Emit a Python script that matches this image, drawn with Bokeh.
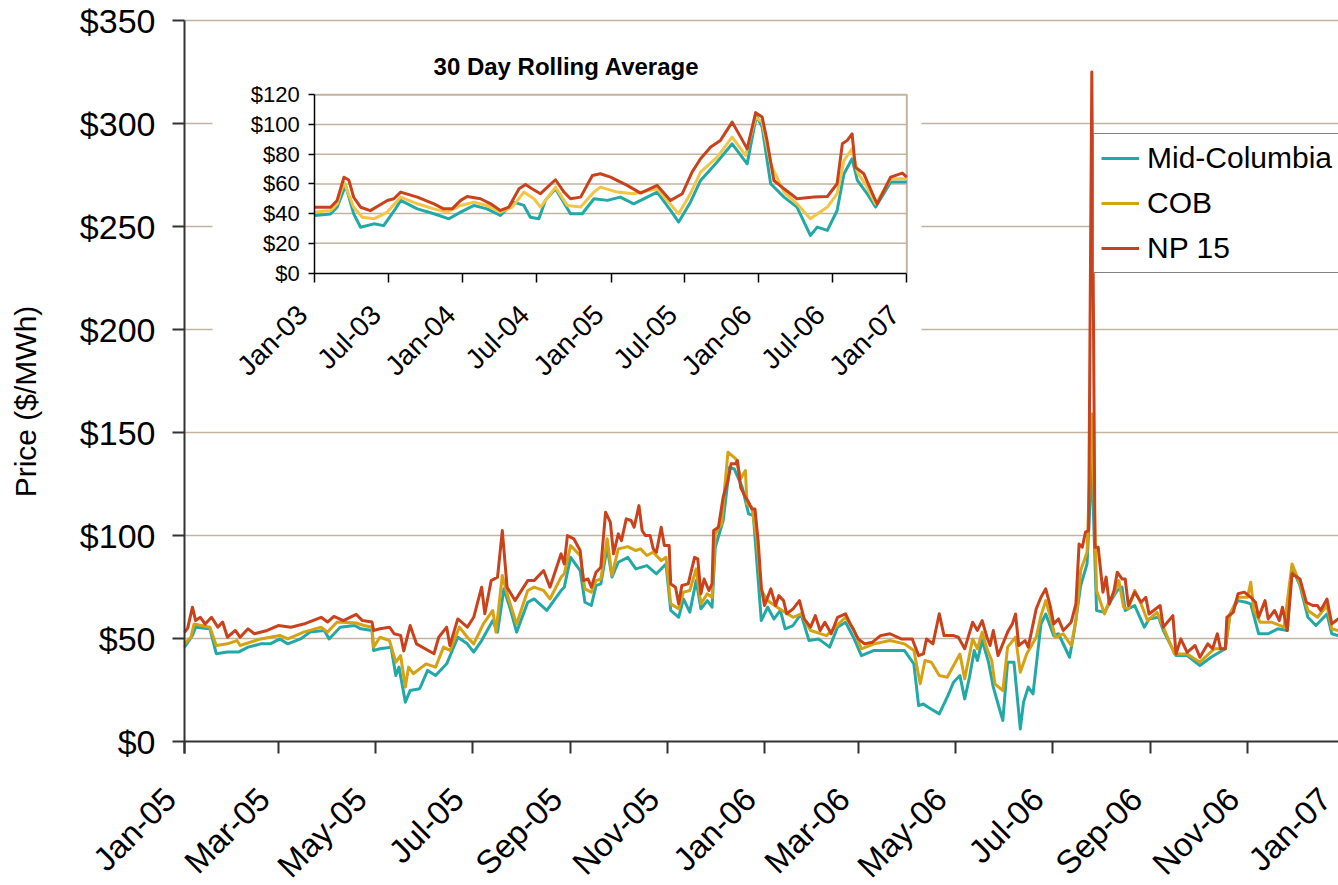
import numpy as np
from math import pi
from bokeh.plotting import figure
from bokeh.models import (Range1d, LinearAxis, FixedTicker, NumeralTickFormatter,
                          Legend, LegendItem, Label)
from bokeh.embed import file_html
from bokeh.resources import INLINE

# ---------------- data ----------------
MAIN_START = "2005-01-01"
INSET_START = "2003-01-01"
INSET_END = "2007-01-01"

SERIES = ["Mid-Columbia", "COB", "NP 15"]

X_TICK_DATES = ["2005-01-01", "2005-03-01", "2005-05-01", "2005-07-01", "2005-09-01", "2005-11-01",
                "2006-01-01", "2006-03-01", "2006-05-01", "2006-07-01", "2006-09-01", "2006-11-01",
                "2007-01-01"]
X_TICK_LABELS = ["Jan-05", "Mar-05", "May-05", "Jul-05", "Sep-05", "Nov-05",
                 "Jan-06", "Mar-06", "May-06", "Jul-06", "Sep-06", "Nov-06", "Jan-07"]
MAIN_Y_TICKS = [0, 50, 100, 150, 200, 250, 300, 350]
INSET_TICK_DATES = ["2003-01-01", "2003-07-01", "2004-01-01", "2004-07-01", "2005-01-01",
                    "2005-07-01", "2006-01-01", "2006-07-01", "2007-01-01"]
INSET_TICK_LABELS = ["Jan-03", "Jul-03", "Jan-04", "Jul-04", "Jan-05", "Jul-05", "Jan-06", "Jul-06", "Jan-07"]
INSET_Y_TICKS = [0, 20, 40, 60, 80, 100, 120]
INSET_TITLE = "30 Day Rolling Average"
Y_LABEL = "Price ($/MWh)"

# daily prices, main chart (day offset from MAIN_START, $/MWh)
midc_day = [0, 5, 7, 16, 20, 27, 34, 40, 48, 54,
            60, 65, 73, 79, 88, 91, 98, 107, 111, 118,
            119, 123, 130, 133, 135, 139, 142, 148, 153, 158,
            165, 172, 178, 182, 187, 194, 197, 201, 205, 209,
            216, 220, 228, 237, 239, 243, 249, 252, 256, 259,
            262, 266, 269, 273, 279, 284, 291, 297, 303, 306,
            311, 314, 318, 322, 325, 329, 332, 334, 339, 343,
            346, 351, 355, 358, 363, 367, 371, 375, 378, 383,
            388, 393, 399, 406, 411, 416, 421, 426, 434, 444,
            453, 459, 462, 465, 468, 475, 480, 484, 488, 491,
            494, 497, 499, 502, 506, 509, 512, 515, 518, 522,
            526, 528, 531, 534, 539, 542, 547, 550, 557, 560,
            564, 568, 571, 574, 579, 583, 587, 590, 592, 598,
            604, 607, 613, 616, 624, 631, 639, 646, 655, 658,
            663, 668, 671, 676, 682, 688, 694, 697, 702, 707,
            712, 719, 722, 726, 729]
midc_price = [45.8, 51.5, 55.5, 54.7, 42.6, 43.4, 43.4, 45.8, 47.4, 47.4,
              49.8, 47.4, 49.8, 53.1, 53.9, 49.8, 55.5, 56.3, 54.7, 53.9,
              44.2, 45, 45.8, 32, 36.1, 19.1, 24.8, 25.6, 34.5, 32,
              37.7, 50.6, 47.4, 43.4, 49, 58.7, 53.1, 74.1, 64.4, 53.1,
              67.6, 69.2, 63.6, 73.3, 74.9, 89.4, 83, 67.6, 66, 75.7,
              76.5, 94.3, 79.8, 87, 89.4, 83.8, 85.4, 81.4, 86.2, 63.6,
              60.3, 69.2, 62.8, 78.1, 64.4, 68.4, 65.2, 94.3, 107.3, 133.1,
              132.3, 123.4, 110.5, 109.7, 58.7, 65.2, 59.5, 63.6, 54.7, 56.3,
              62, 49, 49.8, 45.8, 55.5, 57.9, 50.6, 41.7, 44.2, 44.2,
              44.2, 37.7, 17.4, 18.2, 16.6, 13.4, 21.5, 28.8, 32, 20.7,
              31.2, 44.2, 39.3, 49, 38.5, 26.4, 18.2, 10.2, 38.5, 38.5,
              6.1, 19, 26.4, 23.1, 57.1, 61.9, 51.4, 52.3, 40.9, 53.9,
              75.7, 86.2, 135, 63.6, 62.7, 68.4, 73.3, 74.9, 63.6, 66,
              55.5, 59.5, 60.3, 53.9, 41.7, 41.7, 36.9, 40.9, 45, 61.9,
              68.4, 67.6, 66.8, 52.3, 52.3, 54.7, 53.9, 84.6, 75.7, 60.3,
              56.3, 61.9, 52.3, 51.4, 51]

cob_day = [0, 4, 6, 16, 20, 27, 33, 35, 48, 60,
           65, 75, 86, 90, 96, 108, 113, 118, 119, 123,
           129, 133, 136, 139, 141, 144, 152, 158, 163, 167,
           173, 178, 182, 188, 194, 196, 200, 203, 209, 216,
           220, 226, 230, 237, 239, 243, 249, 252, 256, 259,
           262, 266, 269, 273, 279, 284, 287, 291, 295, 300,
           303, 306, 311, 314, 318, 322, 325, 329, 332, 334,
           338, 340, 342, 347, 350, 353, 354, 357, 360, 363,
           367, 373, 383, 388, 394, 404, 416, 421, 426, 434,
           444, 453, 459, 463, 466, 470, 475, 480, 484, 488,
           491, 496, 499, 502, 505, 508, 510, 515, 518, 523,
           526, 530, 536, 539, 542, 545, 548, 553, 558, 561,
           564, 568, 571, 574, 579, 582, 585, 588, 591, 594,
           598, 602, 606, 612, 616, 623, 631, 639, 648, 655,
           658, 663, 669, 671, 673, 677, 684, 692, 697, 702,
           707, 713, 719, 722, 726, 729]
cob_price = [47.4, 50.6, 57, 55.5, 46.6, 47.4, 49, 46.6, 49.8, 51.5,
             49.8, 53.1, 55.5, 53.1, 58, 57.5, 56.3, 55.5, 45.8, 50.6,
             49, 38.5, 41.7, 26.4, 36.1, 32.9, 37.7, 36.1, 45.8, 44.2,
             55.5, 50.6, 47.4, 57, 63.6, 53.1, 80.6, 71.7, 57, 73.3,
             74.9, 73.3, 69.2, 79.8, 81.4, 95.1, 90.3, 74.1, 72.5, 78.1,
             78.9, 98.4, 80.6, 93.5, 94.6, 92.7, 93.5, 90.3, 91.9, 87.8,
             89.4, 66.8, 64.4, 72.5, 73.3, 83.8, 66.8, 71.7, 70, 100.8,
             105.6, 123.4, 140.4, 137.2, 127.5, 131.5, 115.3, 113.7, 99.2, 73.3,
             68.4, 65.2, 60.3, 62, 53.9, 51.4, 60.3, 54.7, 45, 47.4,
             49, 47.4, 44.2, 28, 39.3, 38.5, 32, 31.2, 36.9, 42.5,
             30.4, 49.8, 45, 53.1, 45, 39.3, 28, 24.7, 45.8, 50.6,
             33.6, 42.5, 50.6, 61.1, 68.4, 60.3, 50.6, 52.3, 46.6, 58.7,
             83, 91.9, 159, 73.3, 61.9, 68.4, 71.7, 78.1, 65.2, 64.4,
             73.3, 66.8, 58.7, 62.7, 55.5, 42.5, 42.5, 38.5, 45, 45,
             61.9, 70, 70, 77.3, 63.6, 57.9, 57.9, 55.5, 86.2, 76.5,
             63.6, 60.3, 66, 54.7, 53.9, 53]

np15_day = [0, 2, 5, 7, 10, 13, 17, 21, 24, 27,
            32, 35, 40, 44, 52, 59, 67, 75, 86, 90,
            94, 100, 108, 112, 118, 119, 123, 129, 132, 136,
            138, 142, 146, 157, 160, 165, 167, 172, 178, 182,
            187, 189, 193, 197, 200, 203, 208, 216, 220, 226,
            230, 237, 239, 241, 245, 249, 251, 254, 256, 259,
            262, 265, 268, 270, 273, 275, 278, 281, 283, 286,
            288, 290, 293, 295, 297, 300, 302, 305, 306, 309,
            311, 313, 317, 321, 323, 325, 327, 330, 332, 333,
            336, 339, 342, 344, 347, 348, 350, 353, 355, 357,
            359, 361, 363, 365, 369, 372, 374, 377, 379, 383,
            387, 390, 394, 397, 400, 403, 407, 411, 416, 419,
            424, 428, 433, 438, 444, 451, 458, 462, 465, 467,
            471, 475, 478, 484, 487, 491, 496, 499, 502, 505,
            507, 509, 512, 518, 521, 523, 525, 529, 531, 536,
            539, 542, 545, 547, 550, 553, 558, 561, 563, 565,
            567, 569, 571, 573, 575, 578, 580, 582, 585, 587,
            590, 592, 594, 598, 602, 605, 607, 614, 616, 622,
            624, 627, 631, 636, 639, 644, 647, 650, 652, 655,
            656, 660, 663, 667, 671, 674, 676, 680, 682, 686,
            689, 691, 694, 697, 702, 706, 710, 713, 715, 719,
            722, 726, 729]
np15_price = [53, 55, 65.2, 58.7, 60.3, 57, 60.3, 55.5, 58, 50.6,
              53.9, 50.6, 54.7, 52.3, 53.9, 56.3, 55.5, 57, 60.3, 58,
              60.7, 58.7, 61.7, 58.7, 58, 53.9, 54.7, 55.5, 52.3, 51.5,
              44, 56.3, 47.4, 42.6, 50.6, 55.5, 46.6, 59.5, 55.5, 60.3,
              74.9, 62, 78.1, 79.8, 102.4, 74.9, 68.4, 78.1, 78.1, 83,
              74.9, 91.1, 86.2, 100, 98.4, 92.7, 78.1, 78.9, 74.9, 82.2,
              84.6, 111.3, 106.4, 91.1, 100.8, 97.5, 108.1, 107.3, 104, 114.5,
              102.4, 100, 100, 93.5, 91.9, 104, 95.1, 95.1, 76.5, 74.9,
              66.8, 75.7, 76.5, 89.4, 88.7, 71.7, 78.9, 73.3, 76.5, 102.4,
              104, 118.6, 126.7, 134.8, 134.8, 136.4, 123.4, 118.6, 116.2, 112.9,
              112.9, 97.5, 74.9, 66, 74.1, 66, 70.8, 68.4, 62, 64.4,
              68.4, 59.5, 55.5, 61.1, 53.9, 57.9, 52.3, 60.3, 62, 57.1,
              49.8, 47.4, 48.2, 51.4, 52.3, 49.8, 49.8, 41.7, 42.5, 49.8,
              47.4, 62, 51.4, 51.4, 50.6, 45, 57.9, 53.9, 58.7, 50.6,
              46.6, 53.9, 41.7, 53.1, 57.1, 61.9, 46.6, 49, 45.8, 64.4,
              70, 74.1, 65.2, 57.1, 59.5, 53.9, 57.9, 66.8, 95.9, 94.3,
              101.6, 102.4, 325, 94.3, 94.3, 72.5, 79.8, 66.8, 73.3, 82.2,
              78.9, 78.9, 66, 72.5, 67.6, 70, 61.9, 66, 55.5, 61.1,
              42.5, 49.8, 43.3, 46.6, 40.9, 47.4, 45, 52.3, 45, 45,
              60.3, 62.7, 71.7, 72.5, 70, 67.6, 60.3, 68.4, 59.5, 63.6,
              58.7, 65.2, 53.9, 81.4, 78.9, 67.6, 66, 66, 63.6, 69.2,
              57.1, 59.5, 58]

# 30 day rolling average, inset (day offset from INSET_START, $/MWh)
midc_avg_day = [0, 39, 55, 76, 96, 113, 146, 170, 199, 212,
                253, 294, 331, 360, 393, 425, 458, 491, 516, 532,
                553, 569, 594, 631, 660, 689, 722, 754, 787, 845,
                878, 898, 927, 952, 993, 1030, 1067, 1090, 1104, 1125,
                1158, 1190, 1223, 1240, 1265, 1289, 1306, 1326, 1339, 1363,
                1384, 1421, 1461]
midc_avg = [38.7, 39.8, 44.3, 58.9, 39.8, 30.8, 33.1, 31.9, 43.2, 48.9,
            43.2, 39.9, 36.5, 41, 45.5, 43.2, 38.7, 47.7, 45.5, 37.6,
            36.5, 48.9, 56.7, 39.9, 39.9, 50, 48.9, 51.1, 46.6, 54.5,
            42.1, 34.3, 47.7, 62.3, 74.7, 87, 73.5, 106.1, 98.2, 60.1,
            51.1, 44.4, 25.3, 30.9, 28.7, 42.1, 66.8, 76.9, 62.3, 53.4,
            44.4, 61.2, 61.2]

cob_avg_day = [0, 39, 55, 72, 96, 117, 146, 179, 212, 253,
               294, 327, 360, 393, 425, 458, 487, 516, 541, 557,
               594, 623, 656, 689, 705, 746, 787, 845, 898, 927,
               952, 993, 1030, 1063, 1088, 1104, 1125, 1158, 1190, 1223,
               1265, 1289, 1306, 1326, 1339, 1363, 1384, 1421, 1461]
cob_avg = [41, 42, 46.5, 61.1, 44.3, 37.6, 36.5, 41, 51.1, 46.6,
           43.2, 41, 45.5, 47.7, 45.5, 41, 44.4, 54.5, 50, 44.4,
           57.8, 45.5, 44.4, 54.5, 57.8, 54.5, 53.4, 56.7, 39.9, 53.4,
           67.9, 78, 91.5, 79.2, 105, 101.6, 73.5, 54.5, 46.6, 36.5,
           44.4, 53.4, 75.8, 83.6, 67.9, 57.8, 46.6, 63.4, 63.4]

np15_avg_day = [0, 39, 55, 72, 84, 96, 113, 137, 179, 195,
                212, 253, 294, 318, 339, 360, 376, 409, 434, 458,
                479, 504, 520, 536, 557, 574, 594, 615, 631, 656,
                685, 705, 730, 771, 804, 845, 878, 907, 931, 952,
                977, 1001, 1030, 1051, 1067, 1088, 1104, 1116, 1133, 1158,
                1190, 1232, 1265, 1289, 1302, 1314, 1326, 1334, 1355, 1380,
                1388, 1421, 1450, 1461]
np15_avg = [44.3, 44.3, 48.8, 64.5, 62.6, 51, 44.3, 42, 48.8, 50,
            54.5, 51.1, 46.6, 43.2, 43.2, 48.9, 51.5, 50, 46.6, 42.1,
            44.4, 56.7, 59.6, 56.7, 53.4, 57.8, 62.8, 54.5, 50, 51.1,
            65.7, 66.8, 64.6, 59, 53.8, 59, 48.9, 53.4, 67.9, 76.9,
            84.8, 89.3, 101.6, 91.5, 83.6, 108, 105, 89.3, 62.3, 56.7,
            50, 51.1, 51.5, 60.1, 87, 89.3, 93.7, 71.3, 66.8, 51.1,
            46.6, 64.6, 67.3, 64.6]

# ---------------- styling / layout ----------------
FONT = "Liberation Sans"
C_MC, C_COB, C_NP = "#22A9A6", "#D6A112", "#C9421B"
C_COB_INSET = "#F2C545"
GRID = "#C2B49E"
AXIS = "#333333"

W, H = 1338, 885                             # the whole canvas is the drawing frame
PL, PR, PT, PB = 184, 1338, 20, 741          # main plot area (px)
IL, IR, IT, IB = 314.3, 906.3, 94.3, 272.5   # inset plot area (px)
PX_PER_DAY = 1.589
DAY_MS = 86400000.0
Y_MAX = MAIN_Y_TICKS[-1]
PX_PER_UNIT = (PB - PT) / Y_MAX


def to_dates(start, days):
    return np.datetime64(start, "D") + np.array(days, dtype="timedelta64[D]")


def ms(date_str):
    return float((np.datetime64(date_str, "ms") - np.datetime64("1970-01-01", "ms")).astype(np.int64))


x_start = ms(MAIN_START)


def mx(px):      # page px -> main x (ms)
    return x_start + (px - PL) / PX_PER_DAY * DAY_MS


def my(py):      # page px -> main y ($)
    return (PB - py) / PX_PER_UNIT


p = figure(width=W, height=H, x_range=Range1d(mx(0), mx(W)), y_range=Range1d(my(H), my(0)),
           x_axis_location=None, y_axis_location=None,
           output_backend="svg", toolbar_location=None,
           min_border_left=0, min_border_right=0, min_border_top=0, min_border_bottom=0)
p.outline_line_color = None
p.background_fill_color = "white"
p.border_fill_color = "white"
for g in p.grid:
    g.visible = False


def style_ticks(ax, color, width, tick_out):
    ax.major_tick_out = tick_out
    ax.major_tick_in = 0
    ax.minor_tick_out = 0
    ax.minor_tick_in = 0
    ax.axis_line_color = color
    ax.axis_line_width = width
    ax.major_tick_line_color = color
    ax.major_tick_line_width = width


def hide_labels(ax, ticks):
    ax.major_label_overrides = {t: "" for t in ticks}
    ax.major_label_text_font_size = "1px"
    ax.major_label_text_color = None
    ax.major_label_standoff = 0


def label_axis(dates, labels, shift_days, standoff, size, **kw):
    """axis drawing only the Excel-like rotated tick labels (anchored a bit left of each tick)"""
    ticks = [ms(d) - shift_days * DAY_MS for d in dates]
    ax = LinearAxis(ticker=FixedTicker(ticks=ticks),
                    major_label_overrides={t: s for t, s in zip(ticks, labels)}, **kw)
    ax.major_label_orientation = pi / 4
    ax.major_label_text_font = FONT
    ax.major_label_text_font_size = size
    ax.major_label_text_color = "black"
    ax.major_label_standoff = standoff
    ax.major_tick_out = 0
    ax.major_tick_in = 0
    ax.minor_tick_out = 0
    ax.minor_tick_in = 0
    ax.axis_line_color = None
    ax.major_tick_line_color = None
    ax.minor_tick_line_color = None
    return ax


x_plot_end = mx(PR)

# main gridlines (from the y axis to the right edge)
p.segment(x0=[x_start] * (len(MAIN_Y_TICKS) - 1), x1=[x_plot_end] * (len(MAIN_Y_TICKS) - 1),
          y0=MAIN_Y_TICKS[1:], y1=MAIN_Y_TICKS[1:], line_color=GRID, line_width=1.5)

# ---------------- inset ----------------
t0, t1 = ms(INSET_START), ms(INSET_END)
ymax_in = INSET_Y_TICKS[-1]
sx = (t1 - t0) / (IR - IL)
sy = ymax_in / (IB - IT)


def ix(px):
    return t0 + (px - IL) * sx


def iy(py):
    return (IB - py) * sy


p.extra_x_ranges = {"ix": Range1d(ix(0), ix(W))}
p.extra_y_ranges = {"iy": Range1d(iy(H), iy(0))}
IN = dict(x_range_name="ix", y_range_name="iy")

p.quad(left=[ix(212)], right=[ix(921)], bottom=[iy(386)], top=[iy(38)],
       fill_color="white", line_color=None, **IN)
n_in = len(INSET_Y_TICKS) - 2
p.segment(x0=[t0] * n_in, x1=[t1] * n_in, y0=INSET_Y_TICKS[1:-1], y1=INSET_Y_TICKS[1:-1],
          line_color=GRID, line_width=1.5, **IN)
p.line(x=[t0, t1, t1], y=[ymax_in, ymax_in, 0], line_color=GRID, line_width=2, **IN)

for d, v, c in [(midc_avg_day, midc_avg, C_MC), (cob_avg_day, cob_avg, C_COB_INSET),
                (np15_avg_day, np15_avg, C_NP)]:
    p.line(to_dates(INSET_START, d), v, line_color=c, line_width=3, line_join="round", **IN)

iya = LinearAxis(fixed_location=t0, bounds=(0, ymax_in), **IN)
iya.ticker = FixedTicker(ticks=INSET_Y_TICKS)
iya.formatter = NumeralTickFormatter(format="$0")
iya.major_label_text_font = FONT
iya.major_label_text_font_size = "22px"
iya.major_label_text_color = "black"
iya.major_label_standoff = 9
style_ticks(iya, "black", 1.5, 6)
p.add_layout(iya, "left")

inset_ticks = [ms(d) for d in INSET_TICK_DATES]
ixa = LinearAxis(fixed_location=0, bounds=(t0, t1), **IN)
ixa.ticker = FixedTicker(ticks=inset_ticks)
hide_labels(ixa, inset_ticks)
style_ticks(ixa, "black", 1.5, 9)
p.add_layout(ixa, "below")
p.add_layout(label_axis(INSET_TICK_DATES, INSET_TICK_LABELS, 30, 37, "28px", fixed_location=0, **IN), "below")

p.add_layout(Label(x=ix(566), y=iy(66), text=INSET_TITLE, text_font=FONT, text_font_size="24px",
                   text_font_style="bold", text_align="center", text_baseline="middle",
                   text_color="black", **IN))

# ---------------- main axes ----------------
ya = LinearAxis(fixed_location=x_start, bounds=(my(PB + 12), Y_MAX))
ya.ticker = FixedTicker(ticks=MAIN_Y_TICKS)
ya.formatter = NumeralTickFormatter(format="$0")
ya.major_label_text_font = FONT
ya.major_label_text_font_size = "34px"
ya.major_label_text_color = "black"
ya.major_label_standoff = 17
style_ticks(ya, AXIS, 2, 12)
p.add_layout(ya, "left")

main_ticks = [ms(d) for d in X_TICK_DATES]
xa = LinearAxis(fixed_location=0, bounds=(x_start, x_plot_end))
xa.ticker = FixedTicker(ticks=main_ticks)
hide_labels(xa, main_ticks)
style_ticks(xa, AXIS, 2, 12)
p.add_layout(xa, "below")
p.add_layout(label_axis(X_TICK_DATES, X_TICK_LABELS, 9, 52, "33px", fixed_location=0), "below")

# y axis title
p.add_layout(Label(x=mx(25), y=my(401), text=Y_LABEL, angle=pi / 2, text_align="center",
                   text_baseline="middle", text_font=FONT, text_font_size="30px", text_color="black"))

# ---------------- main series ----------------
renderers = []
for d, v, c in [(midc_day, midc_price, C_MC), (cob_day, cob_price, C_COB), (np15_day, np15_price, C_NP)]:
    renderers.append(p.line(to_dates(MAIN_START, d), v, line_color=c, line_width=3, line_join="round"))

LEG_L, LEG_B = 1093, 273
legend = Legend(items=[LegendItem(label=s, renderers=[r]) for s, r in zip(SERIES, renderers)],
                location=(LEG_L, H - LEG_B))
legend.label_text_font = FONT
legend.label_text_font_size = "30px"
legend.label_text_color = "black"
legend.glyph_width = 38
legend.glyph_height = 30
legend.label_height = 30
legend.label_standoff = 8
legend.spacing = 11
legend.padding = 7
legend.margin = 0
legend.border_line_color = "black"
legend.border_line_width = 1.5
legend.background_fill_color = "white"
legend.background_fill_alpha = 1
p.add_layout(legend)

open("out.html", "w").write(file_html(p, INLINE))
